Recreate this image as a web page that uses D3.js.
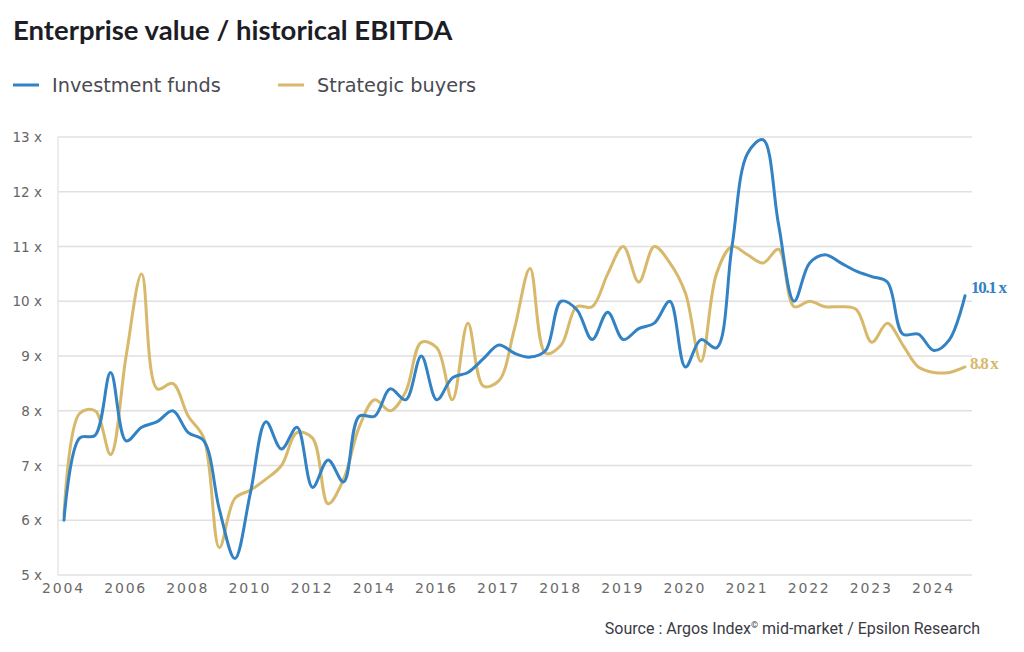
<!DOCTYPE html>
<html>
<head>
<meta charset="utf-8">
<script src="https://cdn.jsdelivr.net/npm/d3@7"></script>
<style>
  html, body { margin: 0; padding: 0; background: #fff; }
  svg { display: block; }
</style>
</head>
<body>
<svg id="chart" width="1024" height="652"></svg>
<script>
// ---- Data ----
const tickLabels = ["2004","2006","2008","2010","2012","2014","2016","2017","2018","2019","2020","2021","2022","2023","2024"];
const investmentFunds = [6.0,7.5,7.55,8.7,7.45,7.7,7.8,8.0,7.6,7.45,6.2,5.3,6.5,7.8,7.3,7.7,6.6,7.1,6.7,7.9,7.9,8.4,8.2,9.0,8.2,8.6,8.7,8.95,9.2,9.05,8.98,9.1,10.0,9.85,9.3,9.8,9.3,9.5,9.6,10.0,8.8,9.3,9.15,11.0,12.7,12.95,11.4,10.0,10.7,10.85,10.7,10.55,10.45,10.35,9.4,9.4,9.1,9.3,10.1];
const strategicBuyers = [6.1,7.95,8.0,7.2,9.0,10.5,8.4,8.5,7.9,7.5,5.5,6.4,6.55,6.75,7.0,7.6,7.5,6.3,6.75,7.7,8.2,8.0,8.35,9.25,9.15,8.2,9.6,8.45,8.55,9.5,10.6,9.05,9.2,9.9,9.9,10.5,11.0,10.35,11.0,10.7,10.15,8.9,10.5,11.0,10.85,10.7,10.95,9.9,10.0,9.9,9.9,9.85,9.25,9.6,9.2,8.8,8.7,8.7,8.8];
const yTicks = [5,6,7,8,9,10,11,12,13];
const seriesNames = ["Investment funds","Strategic buyers"];
const lastLabels = ["10.1 x","8.8 x"];

const BLUE = "#3282c4", GOLD = "#d8b96c";

const svg = d3.select("#chart");
const idx = d3.range(investmentFunds.length);
const x = d3.scalePoint().domain(idx).range([64, 965]);
const y = d3.scaleLinear().domain([5, 13]).range([575, 137]);

// Title
svg.append("text").attr("x", 13).attr("y", 40)
  .attr("font-family", "Lato, 'Open Sans', sans-serif").attr("font-size", 27.5).attr("font-weight", 700)
  .attr("fill", "#1d1d26").attr("letter-spacing", 0)
  .text("Enterprise value / historical EBITDA");

// Legend
const legend = [{name: seriesNames[0], color: BLUE, x: 13}, {name: seriesNames[1], color: GOLD, x: 278}];
legend.forEach(l => {
  svg.append("line").attr("x1", l.x).attr("x2", l.x + 26).attr("y1", 85).attr("y2", 85)
    .attr("stroke", l.color).attr("stroke-width", 3);
  svg.append("text").attr("x", l.x + 39).attr("y", 92)
    .attr("font-family", "'DejaVu Sans', sans-serif").attr("font-size", 19.3)
    .attr("fill", "#4a4a52").text(l.name);
});

// Grid
const grid = svg.append("g");
grid.selectAll("line.h").data(yTicks).join("line")
  .attr("x1", 58).attr("x2", 972).attr("y1", d => y(d)).attr("y2", d => y(d))
  .attr("stroke", "#e0e0e0").attr("stroke-width", 1.5);
grid.append("line").attr("x1", 58).attr("x2", 58).attr("y1", y(13)).attr("y2", y(5))
  .attr("stroke", "#e6e6e6").attr("stroke-width", 1.5);

// Y axis
const yAxis = d3.axisLeft(y).tickValues(yTicks).tickFormat(d => d + " x").tickSize(0).tickPadding(0);
const gy = svg.append("g").attr("transform", "translate(42,0)").call(yAxis);
gy.select(".domain").remove();
gy.selectAll("text").attr("font-family", "'DejaVu Sans', sans-serif").attr("font-size", 13.5)
  .attr("fill", "#666").attr("dy", "0.35em");

// X axis
const tickIdx = tickLabels.map((t, i) => i * 4);
const xAxis = d3.axisBottom(x).tickValues(tickIdx).tickFormat((d, i) => tickLabels[i]).tickSize(0).tickPadding(0);
const gx = svg.append("g").attr("transform", "translate(-1,583)").call(xAxis);
gx.select(".domain").remove();
gx.selectAll("text").attr("font-family", "'DejaVu Sans', sans-serif").attr("font-size", 14)
  .attr("fill", "#6a6a6a").attr("letter-spacing", 1.8);

// Lines
const line = d3.line().x((d, i) => x(i)).y(d => y(d)).curve(d3.curveCatmullRom.alpha(0.5));
[[strategicBuyers, GOLD], [investmentFunds, BLUE]].forEach(([data, color]) => {
  svg.append("path").datum(data).attr("d", line).attr("fill", "none")
    .attr("stroke", color).attr("stroke-width", 3).attr("stroke-linejoin", "round").attr("stroke-linecap", "round");
});

// End labels
const n = investmentFunds.length - 1;
svg.append("text").attr("x", 971).attr("y", y(investmentFunds[n]) - 3)
  .attr("font-family", "'Liberation Serif', serif").attr("font-size", 17).attr("font-weight", 700)
  .attr("fill", BLUE).attr("letter-spacing", -1.3).text(lastLabels[0]);
svg.append("text").attr("x", 970).attr("y", y(strategicBuyers[n]) + 2)
  .attr("font-family", "'Liberation Serif', serif").attr("font-size", 17).attr("font-weight", 700)
  .attr("fill", GOLD).attr("letter-spacing", -1.3).text(lastLabels[1]);

// Source
const src = svg.append("text").attr("x", 980).attr("y", 634).attr("text-anchor", "end")
  .attr("font-family", "'Liberation Sans Narrow', 'Roboto', sans-serif").attr("font-size", 16)
  .attr("fill", "#3a3a44");
src.append("tspan").text("Source : Argos Index");
src.append("tspan").attr("font-size", 9).attr("dy", -6).text("©");
src.append("tspan").attr("dy", 6).text(" mid-market / Epsilon Research");
</script>
</body>
</html>
